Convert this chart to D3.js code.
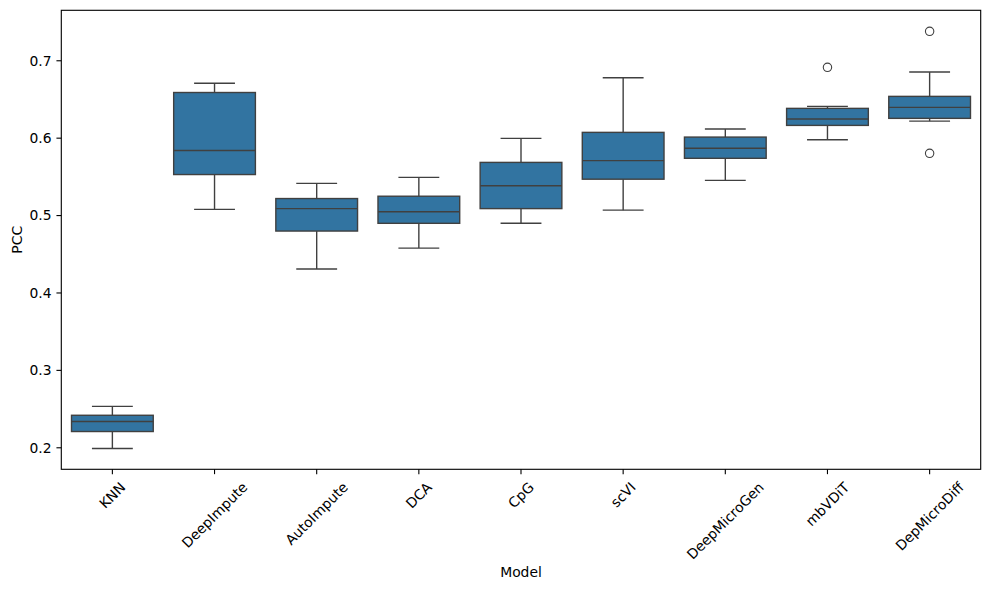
<!DOCTYPE html>
<html>
<head>
<meta charset="utf-8">
<script src="https://cdn.jsdelivr.net/npm/d3@7"></script>
<style>
  html, body { margin: 0; padding: 0; background: #fff; }
  svg { display: block; font-family: "DejaVu Sans", sans-serif; }
</style>
</head>
<body>
<svg id="chart" width="989" height="590"></svg>
<script>
// ---- Data ----
const models = ["KNN", "DeepImpute", "AutoImpute", "DCA", "CpG", "scVI", "DeepMicroGen", "mbVDiT", "DepMicroDiff"];
const whiskerLow  = [0.199, 0.508, 0.431, 0.458, 0.490, 0.507, 0.5455, 0.598, 0.622];
const q1          = [0.221, 0.553, 0.480, 0.490, 0.509, 0.547, 0.574, 0.6165, 0.6256];
const median      = [0.234, 0.584, 0.509, 0.505, 0.5385, 0.571, 0.587, 0.6247, 0.6398];
const q3          = [0.242, 0.659, 0.522, 0.525, 0.5687, 0.6075, 0.6014, 0.6385, 0.654];
const whiskerHigh = [0.2535, 0.671, 0.5416, 0.5494, 0.5997, 0.678, 0.6118, 0.6411, 0.6854];
const outliers    = [[], [], [], [], [], [], [], [0.6915], [0.738, 0.5804]];
const yTicks = [0.2, 0.3, 0.4, 0.5, 0.6, 0.7];

// ---- Layout ----
const svg = d3.select("#chart");
const plotLeft = 61.3, plotRight = 980.7, plotTop = 10.3, plotBottom = 469.3;
const pt = 100 / 72;
const fontSize = 10 * pt;
const boxFill = "#3274a1", lineCol = "#404040";

const x = d3.scaleBand().domain(models).range([plotLeft, plotRight]).paddingInner(0).paddingOuter(0);
const y = d3.scaleLinear().domain([0.1722, 0.7652]).range([plotBottom, plotTop]);

const boxW = x.bandwidth() * 0.8;
const capW = boxW / 2;

const rows = models.map((m, i) => ({
  m, lo: whiskerLow[i], q1: q1[i], med: median[i], q3: q3[i], hi: whiskerHigh[i], out: outliers[i]
}));

const g = svg.append("g");
const groups = g.selectAll("g.box").data(rows).enter().append("g")
  .attr("transform", d => `translate(${x(d.m) + x.bandwidth() / 2},0)`);

const lw = 1.4;
// whiskers
groups.append("line").attr("x1", 0).attr("x2", 0)
  .attr("y1", d => y(d.lo)).attr("y2", d => y(d.q1))
  .attr("stroke", lineCol).attr("stroke-width", lw);
groups.append("line").attr("x1", 0).attr("x2", 0)
  .attr("y1", d => y(d.q3)).attr("y2", d => y(d.hi))
  .attr("stroke", lineCol).attr("stroke-width", lw);
// caps
groups.append("line").attr("x1", -capW / 2).attr("x2", capW / 2)
  .attr("y1", d => y(d.lo)).attr("y2", d => y(d.lo))
  .attr("stroke", lineCol).attr("stroke-width", lw);
groups.append("line").attr("x1", -capW / 2).attr("x2", capW / 2)
  .attr("y1", d => y(d.hi)).attr("y2", d => y(d.hi))
  .attr("stroke", lineCol).attr("stroke-width", lw);
// box
groups.append("rect").attr("x", -boxW / 2).attr("width", boxW)
  .attr("y", d => y(d.q3)).attr("height", d => y(d.q1) - y(d.q3))
  .attr("fill", boxFill).attr("stroke", lineCol).attr("stroke-width", lw);
// median
groups.append("line").attr("x1", -boxW / 2).attr("x2", boxW / 2)
  .attr("y1", d => y(d.med)).attr("y2", d => y(d.med))
  .attr("stroke", lineCol).attr("stroke-width", lw);
// outliers
groups.selectAll("circle").data(d => d.out).enter().append("circle")
  .attr("cx", 0).attr("cy", v => y(v)).attr("r", 4.2)
  .attr("fill", "none").attr("stroke", lineCol).attr("stroke-width", 1.1);

// ---- Axes ----
const tickLen = 3.5 * pt, pad = 3.5 * pt;
// y ticks
const yAx = svg.append("g");
yAx.selectAll("line").data(yTicks).enter().append("line")
  .attr("x1", plotLeft - tickLen).attr("x2", plotLeft)
  .attr("y1", d => y(d)).attr("y2", d => y(d))
  .attr("stroke", "#000").attr("stroke-width", 0.8 * pt);
yAx.selectAll("text").data(yTicks).enter().append("text")
  .attr("x", plotLeft - tickLen - pad).attr("y", d => y(d))
  .attr("dy", "0.35em").attr("text-anchor", "end")
  .attr("font-size", fontSize).attr("fill", "#000")
  .text(d => d3.format(".1f")(d));

// x ticks
const xAx = svg.append("g");
xAx.selectAll("line").data(models).enter().append("line")
  .attr("x1", d => x(d) + x.bandwidth() / 2).attr("x2", d => x(d) + x.bandwidth() / 2)
  .attr("y1", plotBottom).attr("y2", plotBottom + tickLen)
  .attr("stroke", "#000").attr("stroke-width", 0.8 * pt);
const labelTop = plotBottom + tickLen + pad;
xAx.selectAll("text").data(models).enter().append("text")
  .attr("font-size", fontSize).attr("fill", "#000")
  .attr("text-anchor", "middle").attr("dy", "0.35em")
  .text(d => d)
  .each(function(d) {
    const w = this.getComputedTextLength();
    const h = fontSize * 1.17;
    const bh = (w + h) * Math.SQRT1_2;
    const cx = x(d) + x.bandwidth() / 2;
    const cy = labelTop + bh / 2;
    d3.select(this).attr("x", cx).attr("y", cy)
      .attr("transform", `rotate(-45,${cx},${cy})`);
  });

// frame
svg.append("rect").attr("x", plotLeft).attr("y", plotTop)
  .attr("width", plotRight - plotLeft).attr("height", plotBottom - plotTop)
  .attr("fill", "none").attr("stroke", "#000").attr("stroke-width", 0.8 * pt);

// axis labels
svg.append("text").attr("x", (plotLeft + plotRight) / 2).attr("y", 572)
  .attr("dy", "0.35em").attr("text-anchor", "middle")
  .attr("font-size", fontSize).text("Model");
svg.append("text").attr("transform", `translate(17,${(plotTop + plotBottom) / 2}) rotate(-90)`)
  .attr("dy", "0.35em").attr("text-anchor", "middle")
  .attr("font-size", fontSize).text("PCC");
</script>
</body>
</html>
